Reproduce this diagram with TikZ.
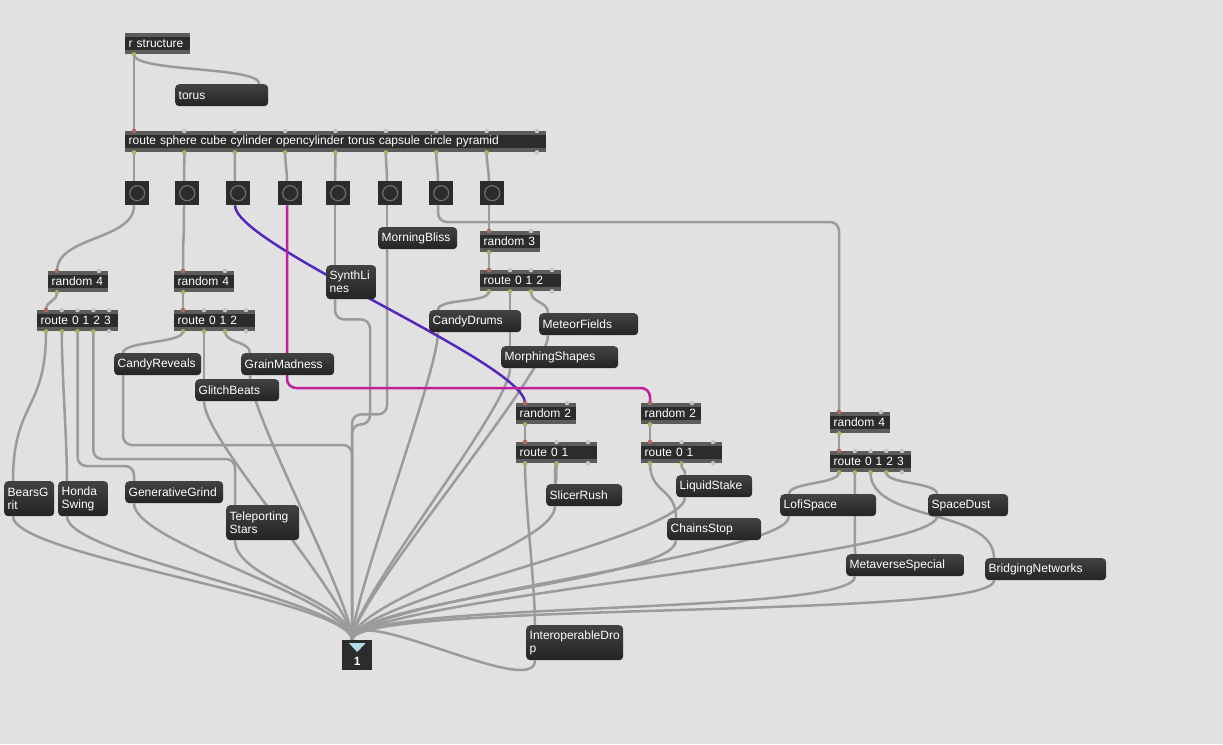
\documentclass[tikz,border=0pt]{standalone}
\usepackage{fontspec}
\setmainfont{Liberation Sans}

\definecolor{patchbg}{RGB}{225,225,225}
\definecolor{boxdark}{RGB}{44,44,44}
\definecolor{stripgray}{RGB}{92,92,92}
\definecolor{msgtop}{RGB}{66,66,66}
\definecolor{msgbottom}{RGB}{36,36,36}
\definecolor{cordgray}{RGB}{155,155,155}
\definecolor{cordpurple}{RGB}{84,40,186}
\definecolor{cordmagenta}{RGB}{192,32,156}
\definecolor{inletred}{RGB}{176,104,100}
\definecolor{outletolive}{RGB}{170,176,104}
\definecolor{porthole}{RGB}{196,196,196}
\definecolor{ringgray}{RGB}{110,110,110}
\definecolor{outletblue}{RGB}{176,220,232}

\pgfdeclarelayer{backdrop}
\pgfdeclarelayer{cordlayer}
\pgfsetlayers{backdrop,cordlayer,main}

\begin{document}
\begin{tikzpicture}[
  x=1pt,
  y=-1pt,
  font=\fontsize{12}{13}\selectfont,
  maxobj/.style={
    anchor=north west,
    fill=boxdark,
    text=white,
    inner xsep=3.5pt,
    inner ysep=0pt,
    minimum height=21pt,
    align=left,
    path picture={
      \fill[stripgray] (path picture bounding box.north west) rectangle ([yshift=-4pt]path picture bounding box.north east);
      \fill[stripgray] (path picture bounding box.south west) rectangle ([yshift=4pt]path picture bounding box.south east);
    }
  },
  maxmsg/.style={
    anchor=north west,
    rounded corners=4pt,
    top color=msgtop,
    bottom color=msgbottom,
    text=white,
    inner xsep=3.5pt,
    inner ysep=0pt,
    minimum height=22pt,
    align=left
  },
  togglebox/.style={
    anchor=north west,
    fill=boxdark,
    minimum width=24pt,
    minimum height=24pt,
    inner sep=0pt
  },
  togglering/.style={
    draw=ringgray,
    line width=1.2pt
  },
  outletbox/.style={
    anchor=north west,
    fill=boxdark,
    minimum width=30pt,
    minimum height=30pt,
    inner sep=0pt
  },
  patchcord/.style={
    draw=cordgray,
    line width=2.5pt,
    to path={.. controls +(0,#1) and +(0,-#1) .. (\tikztotarget)}
  },
  patchcord/.default=40,
  segcord/.style={
    draw=cordgray,
    line width=2.5pt,
    rounded corners=9pt
  }
]

\begin{pgfonlayer}{backdrop}
\fill[patchbg] (0,0) rectangle (1223,744);
\end{pgfonlayer}
\useasboundingbox (0,0) rectangle (1223,744);

% name, left, top, width, text, inlets, outlets
\newcommand{\maxobject}[7]{%
  \pgfmathsetmacro{\objtextwidth}{#4-7}%
  \node[maxobj, text width=\objtextwidth pt] (#1) at (#2,#3) {#5};
  \ifnum#6>0
    \pgfmathtruncatemacro{\lastport}{#6-1}%
    \foreach \k in {0,...,\lastport} {
      \pgfmathsetmacro{\portx}{9+\k*(#4-18)/max(#6-1,1)}%
      \coordinate (#1-i\k) at ([xshift=\portx pt]#1.north west);
      \ifnum\k=0 \def\portcolor{inletred}\else\def\portcolor{porthole}\fi
      \fill[fill=\portcolor] (#1-i\k) circle[radius=2.3];
    }
  \fi
  \pgfmathtruncatemacro{\lastport}{#7-1}%
  \foreach \k in {0,...,\lastport} {
    \pgfmathsetmacro{\portx}{9+\k*(#4-18)/max(#7-1,1)}%
    \coordinate (#1-o\k) at ([xshift=\portx pt]#1.south west);
    \ifnum\k<\lastport \def\portcolor{outletolive}\else
      \ifnum\lastport=0 \def\portcolor{outletolive}\else\def\portcolor{porthole}\fi
    \fi
    \fill[fill=\portcolor] (#1-o\k) circle[radius=2.3];
  }
}

% [options] name, left, top, width, text
\newcommand{\maxmessage}[6][]{%
  \pgfmathsetmacro{\msgtextwidth}{#5-7}%
  \node[maxmsg, text width=\msgtextwidth pt, #1] (#2) at (#3,#4) {#6};
  \coordinate (#2-i0) at ([xshift=9pt]#2.north west);
  \coordinate (#2-i1) at ([xshift=-9pt]#2.north east);
  \coordinate (#2-o0) at ([xshift=9pt]#2.south west);
}

% name, left, top
\newcommand{\maxtoggle}[3]{%
  \node[togglebox] (#1) at (#2,#3) {};
  \draw[togglering] (#1.center) circle[radius=7.5];
  \coordinate (#1-i0) at ([xshift=9pt]#1.north west);
  \coordinate (#1-o0) at ([xshift=9pt]#1.south west);
}

% top part
\maxobject{rstr}{125}{33}{65}{r structure}{0}{1}
\maxmessage{torus}{175}{84}{93}{torus}
\maxobject{rsel}{125}{131}{421}{route sphere cube cylinder opencylinder torus capsule circle pyramid}{9}{9}

\foreach \tx [count=\c from 0] in {125,175,226,278,326,378,429,480} {
  \maxtoggle{tog\c}{\tx}{181}
}

% left branches
\maxobject{rnd4a}{48}{271}{60}{random 4}{2}{1}
\maxobject{rt4a}{37}{310}{81}{route 0 1 2 3}{5}{5}
\maxobject{rnd4b}{174}{271}{60}{random 4}{2}{1}
\maxobject{rt3b}{174}{310}{81}{route 0 1 2}{4}{4}
\maxmessage{creveal}{114}{353}{87}{CandyReveals}
\maxmessage{grain}{241}{353}{93}{GrainMadness}
\maxmessage{glitch}{195}{379}{84}{GlitchBeats}
\maxmessage[minimum height=35pt]{bears}{4}{481}{50}{BearsG\\rit}
\maxmessage[minimum height=35pt]{honda}{58}{481}{50}{Honda\\Swing}
\maxmessage{gengrind}{125}{481}{98}{GenerativeGrind}
\maxmessage[minimum height=35pt]{telep}{226}{505}{73}{Teleporting\\Stars}

% middle
\maxmessage[minimum height=34pt]{synth}{326}{265}{50}{SynthLi\\nes}
\maxmessage{bliss}{378}{227}{79}{MorningBliss}
\maxobject{rnd3}{480}{231}{60}{random 3}{2}{1}
\maxobject{rt3c}{480}{270}{81}{route 0 1 2}{4}{4}
\maxmessage{cdrums}{429}{310}{92}{CandyDrums}
\maxmessage{meteor}{539}{313}{99}{MeteorFields}
\maxmessage{morph}{501}{346}{117}{MorphingShapes}

\maxobject{rnd2a}{516}{403}{60}{random 2}{2}{1}
\maxobject{rt2a}{516}{442}{81}{route 0 1}{3}{3}
\maxmessage{slicer}{546}{484}{76}{SlicerRush}
\maxmessage[minimum height=35pt]{interop}{526}{625}{97}{InteroperableDro\\p}

\maxobject{rnd2b}{641}{403}{60}{random 2}{2}{1}
\maxobject{rt2b}{641}{442}{81}{route 0 1}{3}{3}
\maxmessage{liquid}{676}{475}{76}{LiquidStake}
\maxmessage{chains}{667}{518}{94}{ChainsStop}

% right branch
\maxobject{rnd4c}{830}{412}{60}{random 4}{2}{1}
\maxobject{rt4c}{830}{451}{81}{route 0 1 2 3}{5}{5}
\maxmessage{lofi}{780}{494}{96}{LofiSpace}
\maxmessage{sdust}{928}{494}{80}{SpaceDust}
\maxmessage{meta}{846}{554}{118}{MetaverseSpecial}
\maxmessage{bridge}{985}{558}{121}{BridgingNetworks}

% outlet
\node[outletbox] (out1) at (342,640) {};
\fill[outletblue] ([shift={(-8.5,3)}]out1.north) -- ([shift={(8.5,3)}]out1.north) -- ([shift={(0,12)}]out1.north) -- cycle;
\node[text=white, font=\bfseries\fontsize{12}{13}\selectfont] (out1num) at ([yshift=-21pt]out1.north) {1};
\coordinate (out1-i0) at ([xshift=10pt]out1.north west);

\begin{pgfonlayer}{cordlayer}
\draw[patchcord=18] (rstr-o0) to (torus-i1);
\draw[patchcord] (rstr-o0) to (rsel-i0);
\foreach \c in {0,...,7} {
  \draw[patchcord=10] (rsel-o\c) to (tog\c-i0);
}
\draw[patchcord=35] (tog0-o0) to (rnd4a-i0);
\draw[patchcord] (tog1-o0) to (rnd4b-i0);
\draw[patchcord] (tog4-o0) to (synth-i0);
\draw[patchcord] (tog5-o0) to (bliss-i0);
\draw[segcord] (tog6-o0) |- ([yshift=190pt]rnd4c-i0) -- (rnd4c-i0);
\draw[patchcord] (tog7-o0) to (rnd3-i0);

\foreach \a/\b in {rnd4a/rt4a,rnd4b/rt3b,rnd3/rt3c,rnd2a/rt2a,rnd2b/rt2b,rnd4c/rt4c} {
  \draw[patchcord=10] (\a-o0) to (\b-i0);
}

\draw[patchcord=80] (rt4a-o0) to (bears-i0);
\draw[patchcord] (rt4a-o1) to (honda-i0);
\draw[segcord] (rt4a-o2) |- ([yshift=15pt]gengrind-i0) -- (gengrind-i0);
\draw[segcord] (rt4a-o3) |- ([yshift=46pt]telep-i0) -- (telep-i0);
\draw[patchcord=12] (rt3b-o0) to (creveal-i0);
\draw[patchcord] (rt3b-o1) to (glitch-i0);
\draw[patchcord=12] (rt3b-o2) to (grain-i0);
\draw[patchcord=12] (rt3c-o0) to (cdrums-i0);
\draw[patchcord] (rt3c-o1) to (morph-i0);
\draw[patchcord=12] (rt3c-o2) to (meteor-i0);
\draw[patchcord] (rt2a-o0) to (interop-i0);
\draw[patchcord] (rt2a-o1) to (slicer-i0);
\draw[patchcord=30] (rt2b-o0) to (chains-i0);
\draw[patchcord=8] (rt2b-o1) to (liquid-i0);
\draw[patchcord=12] (rt4c-o0) to (lofi-i0);
\draw[patchcord] (rt4c-o1) to (meta-i0);
\draw[patchcord=50] (rt4c-o2) to (bridge-i0);
\draw[patchcord=12] (rt4c-o3) to (sdust-i0);

% everything ends in the outlet
\foreach \m in {bears,honda,gengrind,telep,glitch,grain,cdrums,morph,meteor,slicer,interop,liquid,chains,lofi,sdust,meta,bridge} {
  \draw[patchcord] (\m-o0) to (out1-i0);
}
\draw[segcord] (creveal-o0) |- ([yshift=195pt]out1-i0) -- (out1-i0);
\draw[segcord] (synth-o0) |- ++(35,20) |- ++(-18,105) -- (out1-i0);
\draw[segcord] (bliss-o0) |- ++(-35,165) -- (out1-i0);

\draw[patchcord, draw=cordpurple] (tog2-o0) to (rnd2a-i0);
\draw[segcord, draw=cordmagenta] (tog3-o0) |- ([yshift=15pt]rnd2b-i0) -- (rnd2b-i0);
\end{pgfonlayer}

\end{tikzpicture}
\end{document}
